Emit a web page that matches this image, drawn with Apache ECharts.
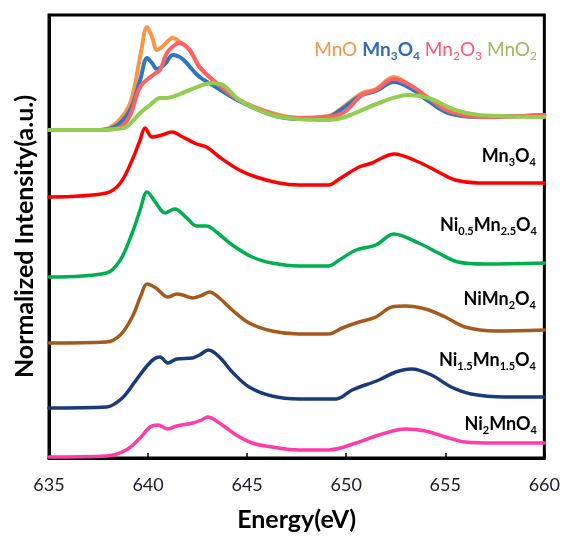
<!DOCTYPE html>
<html><head><meta charset="utf-8">
<script src="https://cdn.jsdelivr.net/npm/echarts@6.0.0/dist/echarts.min.js"></script>
<style>html,body{margin:0;padding:0;background:#fff}#c{width:563px;height:539px}</style>
</head><body><div id="c"></div>
<script>
// ---- Data (Energy in eV, normalized intensity with vertical offsets as plotted) ----
const xTicks = [635, 640, 645, 650, 655, 660];

const mnoE = [635, 637.6, 638.4, 639.1, 639.6, 639.95, 640.2, 640.45, 640.7, 641.25, 641.6, 642.1, 642.6, 643.45, 644.6, 646.25, 647.6, 649.1, 649.65, 650.8, 651.5, 652.4, 653.3, 654.15, 655.15, 656.7, 660];
const mnoI = [32.8, 32.8, 33.5, 35.5, 40.1, 43.1, 42.1, 40.8, 41.1, 42.0, 41.6, 40.8, 39.1, 37.5, 35.8, 34.5, 34.0, 34.2, 34.8, 36.5, 36.9, 38.1, 37.1, 35.8, 34.6, 34.1, 34.3];

const refMn3o4E = [635, 637.6, 638.4, 639.1, 639.6, 639.95, 640.2, 640.45, 640.85, 641.25, 641.6, 641.85, 642.25, 642.6, 643.25, 644.6, 646.25, 647.6, 649.1, 649.65, 650.8, 651.5, 652.4, 653.3, 654.15, 655.15, 656.7, 660];
const refMn3o4I = [32.8, 32.8, 33.2, 34.8, 37.8, 40.0, 39.5, 38.9, 39.4, 40.3, 40.1, 39.7, 38.8, 38.1, 37.3, 35.7, 34.3, 33.9, 34.1, 34.7, 36.3, 36.7, 37.6, 36.9, 35.7, 34.5, 34.1, 34.3];

const mn2o3E = [635, 637.6, 638.6, 639.1, 639.6, 640.25, 640.6, 640.95, 641.35, 641.6, 642.1, 642.6, 643.45, 644.6, 646.25, 647.6, 649.1, 649.9, 650.8, 651.5, 652.4, 653.3, 654.15, 655.15, 656.7, 660];
const mn2o3I = [32.8, 32.8, 33.1, 34.3, 37.1, 38.3, 38.8, 40.5, 41.3, 41.5, 40.8, 39.1, 37.5, 35.8, 34.4, 34.0, 34.1, 34.6, 36.3, 36.8, 37.9, 37.2, 36.0, 34.7, 34.1, 34.3];

const mno2E = [635, 637.6, 638.3, 638.9, 639.6, 640.1, 640.6, 640.95, 641.35, 642.1, 643.25, 643.85, 644.6, 646.25, 647.6, 649.1, 649.95, 651.65, 653.15, 654.15, 655.5, 656.7, 660];
const mno2I = [32.8, 32.8, 32.9, 33.1, 34.5, 35.3, 36.0, 36.0, 36.2, 36.8, 37.5, 37.2, 35.8, 34.3, 33.9, 33.8, 34.1, 35.5, 36.3, 36.0, 34.8, 34.3, 34.1];

const mn3o4E = [635, 637.9, 638.6, 639.2, 639.6, 639.85, 640.2, 640.7, 641.2, 641.75, 642.45, 642.95, 643.6, 644.6, 645.45, 646.6, 647.6, 649.1, 649.65, 650.65, 651.3, 651.8, 652.4, 653.65, 654.65, 655.5, 656.7, 660];
const mn3o4I = [26.1, 26.5, 27.5, 29.8, 31.8, 33.0, 32.1, 32.3, 32.6, 32.1, 31.4, 31.1, 30.1, 28.8, 28.1, 27.5, 27.3, 27.3, 27.9, 29.1, 29.5, 30.0, 30.4, 29.6, 28.6, 27.8, 27.5, 27.5];

const ni05E = [635, 637.9, 638.6, 639.2, 639.6, 639.95, 640.4, 640.85, 641.35, 641.95, 642.45, 642.95, 643.45, 644.25, 645.25, 646.25, 647.6, 649.1, 649.65, 650.5, 651.5, 652.4, 653.65, 654.65, 655.65, 657.0, 660];
const ni05I = [18.1, 18.5, 19.8, 22.5, 24.8, 26.6, 25.5, 24.5, 24.9, 24.0, 23.2, 23.2, 22.6, 21.3, 20.1, 19.5, 19.2, 19.2, 19.8, 20.8, 21.3, 22.4, 21.5, 20.5, 19.6, 19.4, 19.5];

const ni10E = [635, 637.9, 638.6, 639.2, 639.65, 639.95, 640.4, 641.0, 641.45, 641.75, 642.25, 642.75, 643.1, 643.6, 644.25, 645.1, 646.25, 647.6, 649.1, 649.8, 650.65, 651.5, 652.3, 653.0, 654.0, 655.0, 656.0, 657.55, 660];
const ni10I = [11.5, 11.6, 12.3, 14.1, 16.3, 17.4, 17.0, 16.1, 16.4, 16.3, 16.0, 16.3, 16.6, 16.0, 14.8, 13.5, 12.7, 12.4, 12.4, 13.0, 13.6, 14.1, 15.1, 15.2, 14.9, 14.1, 13.1, 12.7, 12.8];

const ni15E = [635, 637.9, 638.7, 639.4, 639.9, 640.3, 640.6, 641.0, 641.45, 642.25, 642.6, 643.05, 643.6, 644.25, 645.1, 646.25, 647.6, 649.5, 650.3, 651.65, 652.5, 653.3, 654.3, 655.3, 656.3, 658.0, 660];
const ni15I = [5.0, 5.1, 6.0, 7.8, 9.1, 9.9, 10.1, 9.5, 9.9, 10.0, 10.3, 10.8, 10.1, 8.6, 7.1, 6.2, 5.9, 5.9, 6.8, 7.8, 8.6, 8.9, 8.3, 7.1, 6.4, 6.1, 6.1];

const ni20E = [635, 637.9, 638.9, 639.6, 640.1, 640.5, 641.0, 641.45, 642.25, 642.7, 643.0, 643.6, 644.45, 645.25, 646.25, 647.6, 649.1, 650.5, 651.65, 653.0, 654.0, 655.0, 656.0, 657.5, 660];
const ni20I = [0.1, 0.2, 0.8, 2.0, 3.1, 3.3, 2.9, 3.2, 3.5, 3.8, 4.1, 3.5, 2.3, 1.5, 1.1, 0.8, 0.8, 1.5, 2.3, 2.9, 2.7, 2.1, 1.6, 1.5, 1.5];

// ---- Build chart ----
const FONT = 'Lato, "Open Sans", sans-serif';
function pairs(e, v) { return e.map((x, i) => [x, v[i]]); }
function line(name, e, v, color, width) {
  return { name, type: 'line', data: pairs(e, v), smooth: 0.35, showSymbol: false, symbol: 'none',
    clip: false, lineStyle: { color, width, cap: 'round', join: 'round' }, z: 3 };
}

const series = [
  line('MnO', mnoE, mnoI, '#F7964A', 4),
  line('Mn3O4 ref', refMn3o4E, refMn3o4I, '#2A78C2', 4),
  line('Mn2O3', mn2o3E, mn2o3I, '#FF6262', 4),
  line('MnO2', mno2E, mno2I, '#92CD50', 4),
  line('Mn3O4', mn3o4E, mn3o4I, '#FF0000', 3.5),
  line('Ni0.5Mn2.5O4', ni05E, ni05I, '#00B050', 3.5),
  line('NiMn2O4', ni10E, ni10I, '#A35A1C', 3.5),
  line('Ni1.5Mn1.5O4', ni15E, ni15I, '#1B3A78', 3.5),
  line('Ni2MnO4', ni20E, ni20I, '#FF3CA8', 3.5)
];

function tok(color, weight, size, sub) {
  return sub
    ? { fontFamily: FONT, fontSize: size, fontWeight: weight, fill: color, lineHeight: 12, padding: [10, 0, 0, 0], verticalAlign: 'top' }
    : { fontFamily: FONT, fontSize: size, fontWeight: weight, fill: color, lineHeight: 22, verticalAlign: 'top' };
}
function label(text, rightX, topY) {
  return { type: 'text', right: 563 - rightX, top: topY, z: 10,
    style: { text, rich: { m: tok('#000', 'bold', 18, false), s: tok('#000', 'bold', 11, true) }, align: 'right' } };
}

const legendRich = {
  o: tok('#F79646', 'normal', 19, false),
  b: tok('#2E6DB4', 'bold', 19, false),
  bs: tok('#2E6DB4', 'bold', 12, true),
  r: tok('#FF5A6E', 'normal', 19, false),
  rs: tok('#FF5A6E', 'normal', 12, true),
  g: tok('#9BBB59', 'normal', 19, false),
  gs: tok('#9BBB59', 'normal', 12, true)
};

const chart = echarts.init(document.getElementById('c'), null, { renderer: 'canvas' });
chart.setOption({
  animation: false,
  backgroundColor: '#fff',
  grid: { left: 49, right: 17, top: 15, bottom: 81, show: true, borderColor: '#000', borderWidth: 3, backgroundColor: 'transparent' },
  xAxis: {
    type: 'value', min: xTicks[0], max: xTicks[xTicks.length - 1], interval: 5,
    name: 'Energy(eV)', nameLocation: 'middle', nameGap: 49,
    nameTextStyle: { fontFamily: FONT, fontSize: 25, fontWeight: 'bold', color: '#000' },
    axisLine: { show: true, lineStyle: { color: '#000', width: 3 } },
    axisTick: { show: true, inside: true, length: 5, lineStyle: { color: '#000', width: 1.5 } },
    axisLabel: { fontFamily: FONT, fontSize: 18, color: '#1a1a2a', margin: 18 },
    splitLine: { show: false }
  },
  yAxis: {
    type: 'value', min: 0, max: 44.3,
    name: 'Normalized Intensity(a.u.)', nameLocation: 'middle', nameGap: 12,
    nameTextStyle: { fontFamily: FONT, fontSize: 25, fontWeight: 'bold', color: '#000' },
    axisLine: { show: true, lineStyle: { color: '#000', width: 3 } },
    axisTick: { show: false }, axisLabel: { show: false }, splitLine: { show: false }
  },
  series,
  graphic: [
    { type: 'text', right: 563 - 537, top: 40, z: 10,
      style: { text: '{o|MnO }{b|Mn}{bs|3}{b|O}{bs|4}{r| Mn}{rs|2}{r|O}{rs|3}{g| MnO}{gs|2}', rich: legendRich } },
    label('{m|Mn}{s|3}{m|O}{s|4}', 536, 147),
    label('{m|Ni}{s|0.5}{m|Mn}{s|2.5}{m|O}{s|4}', 537, 216),
    label('{m|NiMn}{s|2}{m|O}{s|4}', 536, 290),
    label('{m|Ni}{s|1.5}{m|Mn}{s|1.5}{m|O}{s|4}', 536, 351),
    label('{m|Ni}{s|2}{m|MnO}{s|4}', 537, 415)
  ]
});
</script>
</body></html>
